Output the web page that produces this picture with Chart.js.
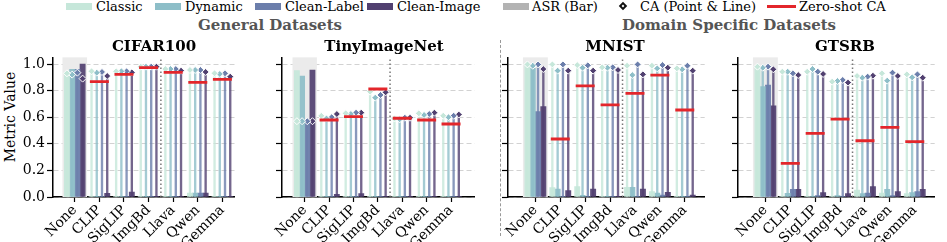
<!DOCTYPE html>
<html>
<head>
<meta charset="utf-8">
<script src="https://cdn.jsdelivr.net/npm/chart.js@4.4.1/dist/chart.umd.min.js"></script>
<style>
body{margin:0;width:947px;height:242px;background:#fff;position:relative;overflow:hidden;font-family:"DejaVu Serif",serif;}
canvas{position:absolute;top:0;}
.txt{position:absolute;white-space:nowrap;color:#000;}
.lg{top:0;font-size:13px;line-height:13px;}
.sw{position:absolute;top:2.5px;width:26px;height:7.5px;}
.ptitle{top:39px;font-size:15px;line-height:15px;font-weight:bold;transform:translateX(-50%);}
.gtitle{top:18px;font-size:15px;line-height:15px;font-weight:bold;color:#555;transform:translateX(-50%);}
.ytitle{left:10px;top:117px;font-size:14px;line-height:14px;transform:translate(-50%,-50%) rotate(-90deg);}
</style>
</head>
<body>
<script>
// ---------- data ----------
const categories = ["None", "CLIP", "SigLIP", "ImgBd", "Llava", "Qwen", "Gemma"];
const attacks = ["Classic", "Dynamic", "Clean-Label", "Clean-Image"];
const yTicks = [0, 0.2, 0.4, 0.6, 0.8, 1.0];

// rows = defense (categories), columns = attack
const cifarCA = [
  [0.93, 0.92, 0.935, 0.89],
  [0.945, 0.935, 0.94, 0.91],
  [0.945, 0.945, 0.945, 0.937],
  [0.98, 0.98, 0.98, 0.98],
  [0.962, 0.962, 0.962, 0.95],
  [0.955, 0.955, 0.955, 0.94],
  [0.93, 0.925, 0.93, 0.905]
];
const cifarASR = [
  [0.94, 0.96, 0.96, 1.0],
  [0.002, 0.002, 0.002, 0.028],
  [0.002, 0.002, 0.002, 0.037],
  [0.002, 0.002, 0.002, 0.003],
  [0.002, 0.002, 0.002, 0.002],
  [0.03, 0.03, 0.03, 0.03],
  [0.002, 0.002, 0.002, 0.002]
];
const cifarZS = [null, 0.867, 0.922, 0.972, 0.937, 0.862, 0.885];

const tinyCA = [
  [0.57, 0.57, 0.57, 0.57],
  [0.61, 0.59, 0.60, 0.624],
  [0.629, 0.624, 0.634, 0.634],
  [0.792, 0.747, 0.767, 0.787],
  [0.59, 0.584, 0.596, 0.596],
  [0.629, 0.617, 0.624, 0.634],
  [0.611, 0.60, 0.611, 0.62]
];
const tinyASR = [
  [0.95, 0.91, 0.56, 0.955],
  [0.002, 0.002, 0.002, 0.02],
  [0.002, 0.002, 0.002, 0.025],
  [0.002, 0.002, 0.002, 0.002],
  [0.002, 0.002, 0.002, 0.002],
  [0.002, 0.002, 0.002, 0.002],
  [0.002, 0.002, 0.002, 0.002]
];
const tinyZS = [null, 0.579, 0.604, 0.812, 0.592, 0.579, 0.549];

const mnistCA = [
  [0.997, 0.987, 0.997, 0.962],
  [0.997, 0.95, 0.997, 0.95],
  [0.992, 0.972, 0.99, 0.95],
  [0.975, 0.972, 0.975, 0.955],
  [0.987, 0.917, 0.997, 0.922],
  [0.987, 0.967, 0.992, 0.972],
  [0.967, 0.96, 0.987, 0.95]
];
const mnistASR = [
  [0.99, 0.967, 0.642, 0.68],
  [0.07, 0.06, 0.002, 0.048],
  [0.078, 0.012, 0.002, 0.06],
  [0.005, 0.005, 0.005, 0.005],
  [0.072, 0.072, 0.002, 0.06],
  [0.04, 0.03, 0.015, 0.035],
  [0.005, 0.005, 0.005, 0.015]
];
const mnistZS = [null, 0.436, 0.835, 0.692, 0.779, 0.917, 0.654];

const gtsrbCA = [
  [0.98, 0.972, 0.98, 0.96],
  [0.942, 0.942, 0.93, 0.917],
  [0.942, 0.962, 0.942, 0.925],
  [0.867, 0.872, 0.88, 0.86],
  [0.91, 0.897, 0.905, 0.912],
  [0.93, 0.875, 0.935, 0.91],
  [0.922, 0.9, 0.922, 0.897]
];
const gtsrbASR = [
  [0.98, 0.83, 0.842, 0.685],
  [0.005, 0.028, 0.058, 0.058],
  [0.005, 0.005, 0.01, 0.033],
  [0.005, 0.01, 0.005, 0.025],
  [0.052, 0.025, 0.03, 0.078],
  [0.03, 0.058, 0.01, 0.04],
  [0.025, 0.033, 0.04, 0.058]
];
const gtsrbZS = [null, 0.253, 0.479, 0.586, 0.423, 0.524, 0.416];

// ---------- style ----------
const colors = ["#c6e7da", "#8dbec8", "#6b7eab", "#514070"];
const RED = "#e3262b";
const FONT = "DejaVu Serif";
const barW = 0.2125;
const offsets = [-1.5, -0.5, 0.5, 1.5].map(k => k * barW);

function alpha(hex, a) {
  const n = parseInt(hex.slice(1), 16);
  return `rgba(${n >> 16},${(n >> 8) & 255},${n & 255},${a})`;
}

Chart.defaults.font.family = FONT;
Chart.defaults.font.size = 14;
Chart.defaults.color = "#000";

// ---------- legend / titles ----------
const legendPos = [66, 155, 255, 367];
attacks.forEach((a, k) => {
  const sw = document.createElement("div");
  sw.className = "sw";
  sw.style.left = legendPos[k] + "px";
  sw.style.background = colors[k];
  document.body.appendChild(sw);
  const t = document.createElement("div");
  t.className = "txt lg";
  t.style.left = (legendPos[k] + 30) + "px";
  t.textContent = a;
  document.body.appendChild(t);
});
document.body.insertAdjacentHTML("beforeend", `
<div class="sw" style="left:503px;background:#b3b3b3"></div>
<div class="txt lg" style="left:532px">ASR (Bar)</div>
<div style="position:absolute;left:620px;top:3px;width:6px;height:6px;box-sizing:border-box;border:2px solid #111;background:#fff;transform:rotate(45deg)"></div>
<div class="txt lg" style="left:640px">CA (Point &amp; Line)</div>
<div style="position:absolute;left:767px;top:4.5px;width:29px;height:3px;background:${RED}"></div>
<div class="txt lg" style="left:799px">Zero-shot CA</div>
<div class="txt gtitle" style="left:270px">General Datasets</div>
<div class="txt gtitle" style="left:729px">Domain Specific Datasets</div>
<div class="txt ytitle">Metric Value</div>
<div style="position:absolute;left:500px;top:40px;height:196px;border-left:1.2px dashed #999"></div>
`);

// ---------- panels ----------
const panels = [
  {title: "CIFAR100", ca: cifarCA, asr: cifarASR, zs: cifarZS, left: 0, axisLeft: 53, axisRight: 245, xMin: -0.885, xMax: 6.5, yLabels: true, tx: 154},
  {title: "TinyImageNet", ca: tinyCA, asr: tinyASR, zs: tinyZS, left: 252, axisLeft: 282, axisRight: 485, xMin: -0.93, xMax: 6.97, yLabels: false, tx: 384},
  {title: "MNIST", ca: mnistCA, asr: mnistASR, zs: mnistZS, left: 478, axisLeft: 508, axisRight: 715, xMin: -1.1, xMax: 6.8, yLabels: false, tx: 615},
  {title: "GTSRB", ca: gtsrbCA, asr: gtsrbASR, zs: gtsrbZS, left: 708, axisLeft: 738, axisRight: 945, xMin: -1.1, xMax: 6.8, yLabels: false, tx: 845}
];

const decor = {
  id: "decor",
  beforeDatasetsDraw(chart) {
    const {ctx, chartArea: a, scales: {x}} = chart;
    ctx.save();
    const l = x.getPixelForValue(-0.5), r = x.getPixelForValue(0.5);
    ctx.fillStyle = "#ebebeb";
    ctx.fillRect(l, a.top, r - l, a.bottom - a.top);
    const xs = x.getPixelForValue(3.5);
    ctx.strokeStyle = "#777";
    ctx.lineWidth = 1.5;
    ctx.setLineDash([1.5, 2.5]);
    ctx.beginPath();
    ctx.moveTo(xs, a.bottom);
    ctx.lineTo(xs, a.top);
    ctx.stroke();
    ctx.restore();
  }
};

panels.forEach(p => {
  const cv = document.createElement("canvas");
  const yw = p.axisLeft - p.left;
  cv.width = p.axisRight + 2 - p.left;
  cv.height = 242;
  cv.style.left = p.left + "px";
  document.body.appendChild(cv);

  const t = document.createElement("div");
  t.className = "txt ptitle";
  t.style.left = p.tx + "px";
  t.textContent = p.title;
  document.body.appendChild(t);

  const datasets = [{
    type: "scatter", order: 1,
    data: categories.map((c, i) => ({x: i, y: p.zs[i]})),
    pointStyle: "line", pointRadius: 9.5, pointHoverRadius: 9.5,
    borderColor: RED, borderWidth: 2.8
  }];
  attacks.forEach((a, k) => {
    const dx = offsets[k];
    datasets.push({
      type: "scatter", order: 2, label: a,
      data: categories.map((c, i) => ({x: i + dx, y: p.ca[i][k]})),
      pointStyle: "rectRot", pointRadius: 3.5, pointHoverRadius: 3.5,
      backgroundColor: colors[k], borderColor: "#fff", borderWidth: 1
    });
    datasets.push({
      type: "bar", order: 3, grouped: false,
      data: categories.map((c, i) => ({x: i + dx, y: [0, p.ca[i][k]]})),
      barThickness: 1.7, backgroundColor: alpha(colors[k], 0.8)
    });
    datasets.push({
      type: "bar", order: 4, grouped: false,
      data: categories.map((c, i) => ({x: i + dx, y: p.asr[i][k]})),
      categoryPercentage: 1, barPercentage: 1, backgroundColor: alpha(colors[k], 0.92)
    });
  });

  new Chart(cv, {
    type: "bar",
    data: {datasets},
    options: {
      responsive: false, animation: false, devicePixelRatio: 1,
      layout: {padding: {top: 57.35, right: 2, left: 0, bottom: 0}},
      plugins: {legend: {display: false}, tooltip: {enabled: false}},
      scales: {
        x: {
          type: "linear", min: p.xMin, max: p.xMax, offset: false,
          afterBuildTicks: s => { s.ticks = categories.map((c, i) => ({value: i})); },
          afterFit: s => { s.height = 45; s.paddingLeft = 0; s.paddingRight = 0; },
          ticks: {callback: v => categories[v], autoSkip: false, maxRotation: 45, minRotation: 45, padding: 0},
          grid: {drawOnChartArea: false, drawTicks: true, tickLength: 5, tickColor: "#000", tickWidth: 1.2, offset: false},
          border: {color: "#000", width: 1.5}
        },
        y: {
          min: 0, max: 1.05,
          afterBuildTicks: s => { s.ticks = yTicks.map(v => ({value: v})); },
          afterFit: s => { s.width = yw; },
          ticks: {callback: v => p.yLabels ? v.toFixed(1) : "", padding: 2},
          grid: {color: "#d2d2d2", lineWidth: 1, tickLength: 6, tickColor: "#000", tickWidth: 1.2},
          border: {color: "#000", width: 1.5, dash: [5, 3]}
        }
      }
    },
    plugins: [decor]
  });
});
</script>
</body>
</html>
